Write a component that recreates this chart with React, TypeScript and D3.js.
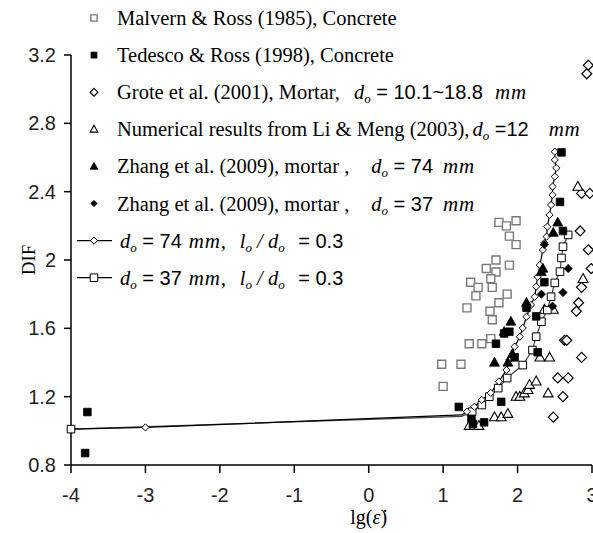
import React from "react";
import * as d3 from "d3";

// ---------- data (lg strain rate, DIF) ----------
const malvern: [number, number][] = [
  [1.75, 2.22], [1.85, 2.2], [1.98, 2.23], [1.89, 2.14], [1.98, 2.09],
  [1.71, 2.0], [1.89, 1.97], [1.58, 1.95], [1.71, 1.93], [1.64, 1.89],
  [1.37, 1.87], [1.47, 1.84], [1.66, 1.84], [1.44, 1.79], [1.86, 1.8],
  [1.75, 1.75], [1.32, 1.72], [1.63, 1.7], [1.66, 1.65], [1.35, 1.51],
  [1.52, 1.51], [1.64, 1.54], [0.98, 1.39], [1.24, 1.39], [1.0, 1.26],
];
const tedesco: [number, number][] = [
  [-3.78, 1.11], [-3.81, 0.87], [1.21, 1.14], [1.38, 1.07], [1.4, 1.04],
  [1.55, 1.05], [1.78, 1.17], [1.71, 1.51], [1.82, 1.57], [1.89, 1.58],
  [1.96, 1.43], [2.12, 1.72], [2.25, 1.67], [2.27, 1.46], [2.36, 1.87],
  [2.59, 2.63], [2.57, 2.34], [2.61, 2.17],
];
const grote: [number, number][] = [
  [2.95, 3.14], [2.93, 3.09], [2.86, 2.39], [2.97, 2.39], [2.84, 2.17],
  [2.95, 2.06], [2.99, 1.95], [2.86, 1.84], [2.82, 1.75], [2.79, 1.7],
  [2.63, 1.53], [2.66, 1.53], [2.86, 1.43], [2.54, 1.31], [2.68, 1.31],
  [2.61, 1.2], [2.48, 1.08],
];
const liMeng: [number, number][] = [
  [1.35, 1.03], [1.42, 1.03], [1.48, 1.03], [1.69, 1.08], [1.78, 1.08],
  [1.87, 1.1], [1.98, 1.2], [2.03, 1.2], [2.09, 1.22], [2.14, 1.24],
  [2.16, 1.27], [2.25, 1.29], [2.41, 1.22], [2.3, 1.43], [2.43, 1.43],
  [2.36, 1.71], [2.48, 1.71], [2.88, 1.89], [2.81, 2.43],
];
const zhang74: [number, number][] = [
  [2.54, 2.22], [2.48, 2.16], [2.34, 1.95], [2.32, 1.93], [2.12, 1.75],
  [1.91, 1.64], [1.82, 1.58], [1.69, 1.4], [1.87, 1.4], [1.93, 1.45],
];
const zhang37: [number, number][] = [
  [2.68, 1.95], [2.61, 1.81], [2.32, 1.8], [2.47, 1.73], [2.36, 2.09],
];
const model74: [number, number][] = [
  [-4, 1.01], [-3, 1.02], [1.25, 1.093], [1.32, 1.112], [1.42, 1.141],
  [1.52, 1.181], [1.64, 1.222], [1.75, 1.288], [1.85, 1.356], [1.89, 1.415],
  [1.96, 1.493], [2.03, 1.551], [2.07, 1.602], [2.12, 1.668], [2.18, 1.737],
  [2.23, 1.785], [2.25, 1.844], [2.27, 1.902], [2.3, 1.971], [2.34, 2.059],
  [2.36, 2.1], [2.39, 2.137], [2.4, 2.195], [2.43, 2.264], [2.45, 2.322],
  [2.47, 2.381], [2.47, 2.43], [2.5, 2.488], [2.52, 2.539], [2.5, 2.586],
  [2.5, 2.634],
];
const model37: [number, number][] = [
  [-4, 1.01], [1.25, 1.085], [1.39, 1.112], [1.52, 1.151], [1.62, 1.2],
  [1.74, 1.25], [1.86, 1.309], [2.07, 1.385], [2.2, 1.473], [2.25, 1.551],
  [2.32, 1.639], [2.4, 1.707], [2.45, 1.785], [2.5, 1.866], [2.57, 1.932],
  [2.59, 2.012], [2.61, 2.078], [2.68, 2.147],
];

const xTicks = [-4, -3, -2, -1, 0, 1, 2, 3];
const yTicks = [0.8, 1.2, 1.6, 2, 2.4, 2.8, 3.2];
const yTickLabels = ["0.8", "1.2", "1.6", "2", "2.4", "2.8", "3.2"];

// legend text runs: [kind, text, extra gap before]
type Run = [string, string, number];
const legendLabels: Run[][] = [
  [["r", "Malvern & Ross (1985), Concrete", 0]],
  [["r", "Tedesco & Ross (1998), Concrete", 0]],
  [["r", "Grote et al. (2001), Mortar,", 0], ["d", "d", 14], ["s", " = 10.1~18.8", 0], ["m", "mm", 12]],
  [["r", "Numerical results from Li & Meng (2003),", 0], ["d", "d", 3], ["s", " =12", 0], ["m", "mm", 20]],
  [["r", "Zhang et al. (2009), mortar ,", 0], ["d", "d", 22], ["s", " = 74", 0], ["m", "mm", 10]],
  [["r", "Zhang et al. (2009), mortar ,", 0], ["d", "d", 22], ["s", " = 37", 0], ["m", "mm", 10]],
  [["d", "d", 0], ["s", " = 74", 0], ["m", "mm,", 7], ["d", "l", 13], ["i", " / ", 0], ["d", "d", 0], ["s", " = 0.3", 8]],
  [["d", "d", 0], ["s", " = 37", 0], ["m", "mm,", 7], ["d", "l", 13], ["i", " / ", 0], ["d", "d", 0], ["s", " = 0.3", 8]],
];
const legendMarkers = ["malvern", "tedesco", "grote", "limeng", "zhang74", "zhang37", "m74", "m37"];

// ---------- layout ----------
const W = 593;
const H = 533;
const SERIF = "'Liberation Serif', 'Times New Roman', serif";
const SANS = "'Liberation Sans', Arial, sans-serif";

const x = d3.scaleLinear().domain([-4, 3]).range([71, 592]);
const y = d3.scaleLinear().domain([0.8, 3.2]).range([465, 55]);

const sq = (r: number) => `M${-r},${-r}H${r}V${r}H${-r}Z`;
const dia = (r: number) => `M0,${-r}L${r},0L0,${r}L${-r},0Z`;
const tri = (r: number) => `M0,${-r}L${r * 0.95},${r * 0.7}L${-r * 0.95},${r * 0.7}Z`;

function Marker({ kind, cx, cy, legend }: { kind: string; cx: number; cy: number; legend?: boolean }) {
  const t = `translate(${cx},${cy})`;
  const k = legend ? 0.78 : 1;
  switch (kind) {
    case "malvern":
      return <path transform={t} d={sq(4 * k)} fill="#fff" stroke="#7a7a7a" strokeWidth={1.4} />;
    case "tedesco":
      return <path transform={t} d={sq(3.8 * k)} fill="#000" stroke="#000" strokeWidth={0.8} />;
    case "grote":
      return <path transform={t} d={dia(5 * k)} fill="#fff" stroke="#000" strokeWidth={1.2} />;
    case "limeng":
      return <path transform={t} d={tri(5.2 * k)} fill="#fff" stroke="#000" strokeWidth={1.1} />;
    case "zhang74":
      return <path transform={t} d={tri(5.2 * k)} fill="#000" stroke="#000" strokeWidth={0.8} />;
    case "zhang37":
      return <path transform={t} d={dia(4.2 * k)} fill="#000" stroke="#000" strokeWidth={0.6} />;
    case "m74":
      return <path transform={t} d={dia(3.6)} fill="#fff" stroke="#000" strokeWidth={1} />;
    case "m37":
      return <path transform={t} d={sq(3.8)} fill="#fff" stroke="#000" strokeWidth={1} />;
    default:
      return null;
  }
}

function LegendText({ runs, tx, ty }: { runs: Run[]; tx: number; ty: number }) {
  const items: React.ReactNode[] = [];
  let pendingDy = 0;
  runs.forEach(([k, s, gap], i) => {
    const common: any = { key: i, dx: gap || undefined, dy: pendingDy || undefined };
    pendingDy = 0;
    if (k === "r") items.push(<tspan {...common} fontFamily={SERIF}>{s}</tspan>);
    else if (k === "s")
      items.push(<tspan {...common} fontFamily={SANS} fontSize={20}>{s}</tspan>);
    else if (k === "m")
      items.push(<tspan {...common} fontFamily={SERIF} fontStyle="italic" fontSize={21} letterSpacing={0.8}>{s}</tspan>);
    else if (k === "i")
      items.push(<tspan {...common} fontFamily={SERIF} fontStyle="italic">{s}</tspan>);
    else if (k === "d") {
      items.push(
        <tspan {...common} fontFamily={SERIF} fontStyle="italic">{s}</tspan>,
        <tspan key={i + "o"} fontFamily={SERIF} fontStyle="italic" fontSize={13} dy={4}>o</tspan>
      );
      pendingDy = -4;
    }
  });
  return (
    <text x={tx} y={ty} fontFamily={SERIF} fontSize={20.5} fill="#000" style={{ whiteSpace: "pre" }}>
      {items}
    </text>
  );
}

export default function App() {
  const line = d3
    .line<[number, number]>()
    .x((d) => x(d[0]))
    .y((d) => y(d[1]));

  const scatter = (data: [number, number][], kind: string) =>
    data.map((d, i) => <Marker key={kind + i} kind={kind} cx={x(d[0])} cy={y(d[1])} />);

  const x0 = x(-4);

  return (
    <div style={{ position: "fixed", left: 0, top: 0 }}>
      <svg width={W} height={H} viewBox={`0 0 ${W} ${H}`} style={{ display: "block", background: "#fff" }}>
        <rect width={W} height={H} fill="#fff" />
        {/* axes */}
        <g stroke="#000" strokeWidth={1.5} fill="none">
          <line x1={x0} x2={x0} y1={y(3.2)} y2={y(0.8)} />
          <line x1={x0} x2={x(3)} y1={y(0.8)} y2={y(0.8)} />
          {yTicks.map((t) => (
            <line key={"yt" + t} x1={x0 - 7} x2={x0} y1={y(t)} y2={y(t)} />
          ))}
          {xTicks.map((t) => (
            <line key={"xt" + t} x1={x(t)} x2={x(t)} y1={y(0.8)} y2={y(0.8) + 8} />
          ))}
        </g>
        {yTicks.map((t, i) => (
          <text key={"yl" + t} x={x0 - 15} y={y(t) + 7} textAnchor="end" fontFamily={SANS} fontSize={20} fill="#222">
            {yTickLabels[i]}
          </text>
        ))}
        {xTicks.map((t) => (
          <text key={"xl" + t} x={x(t)} y={502} textAnchor="middle" fontFamily={SANS} fontSize={20} fill="#222">
            {t}
          </text>
        ))}
        <text x={x(0)} y={524} textAnchor="middle" fontFamily={SERIF} fontSize={20} fill="#000">
          lg(<tspan fontStyle="italic">{"\u03b5\u0307"}</tspan>)
        </text>
        <text transform={`translate(35,${y(2)}) rotate(-90)`} textAnchor="middle" fontFamily={SERIF} fontSize={19} fill="#000">
          DIF
        </text>

        {/* scatter series */}
        {scatter(malvern, "malvern")}
        {scatter(grote, "grote")}
        {scatter(liMeng, "limeng")}

        {/* model curves */}
        <path d={line(model37) || ""} fill="none" stroke="#444" strokeWidth={1.2} />
        <path d={line(model74) || ""} fill="none" stroke="#000" strokeWidth={1.2} />
        {model37.map((d, i) => (i === 1 ? null : <Marker key={"m37" + i} kind="m37" cx={x(d[0])} cy={y(d[1])} />))}
        {model74.map((d, i) => (i === 0 || i === 2 ? null : <Marker key={"m74" + i} kind="m74" cx={x(d[0])} cy={y(d[1])} />))}

        {scatter(tedesco, "tedesco")}
        {scatter(zhang74, "zhang74")}
        {scatter(zhang37, "zhang37")}

        {/* legend */}
        {legendLabels.map((runs, i) => {
          const cy = 18 + i * 37.1;
          const mk = legendMarkers[i];
          const isLine = mk === "m74" || mk === "m37";
          return (
            <g key={"lg" + i}>
              {isLine && <line x1={77} x2={112} y1={cy} y2={cy} stroke="#000" strokeWidth={1.2} />}
              <Marker kind={mk} cx={94} cy={cy} legend={!isLine} />
              <LegendText runs={runs} tx={isLine ? 120 : 117} ty={cy + 7} />
            </g>
          );
        })}
      </svg>
    </div>
  );
}
